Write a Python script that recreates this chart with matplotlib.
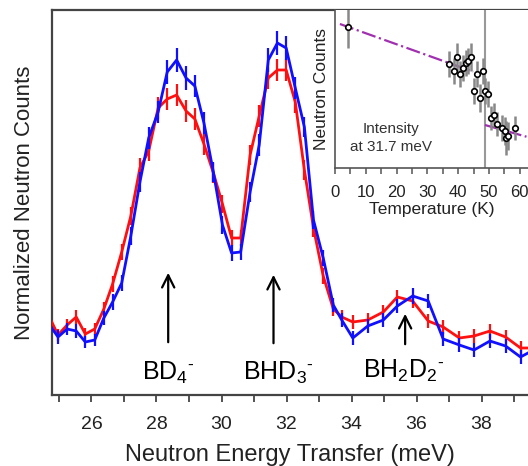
import matplotlib
matplotlib.use("Agg")
import matplotlib.pyplot as plt
from matplotlib.ticker import MultipleLocator

plt.rcParams['font.family'] = ['Liberation Sans', 'DejaVu Sans']
plt.rcParams['mathtext.fontset'] = 'custom'
plt.rcParams['mathtext.rm'] = 'Liberation Sans'
plt.rcParams['mathtext.it'] = 'Liberation Sans'

# main spectrum (energy in meV, counts in arbitrary units)
energy = [24.69, 24.97, 25.25, 25.53, 25.81, 26.10, 26.38, 26.65, 26.93, 27.21,
          27.49, 27.76, 28.05, 28.33, 28.62, 28.91, 29.18, 29.46, 29.75, 30.03,
          30.31, 30.59, 30.88, 31.16, 31.44, 31.72, 31.99, 32.27, 32.55, 32.83,
          33.13, 33.44, 33.70, 34.04, 34.50, 34.98, 35.41, 35.88, 36.36, 36.82,
          37.32, 37.77, 38.26, 38.74, 39.20, 39.66]
red_y = [316, 335, 325, 317, 334, 329, 309, 284, 252, 216,
         168, 151, 108, 99, 95, 111, 119, 144, 173, 204,
         238, 238, 155, 116, 78, 70, 70, 102, 170, 228,
         276, 309, 317, 322, 320, 312, 297, 301, 321, 327,
         338, 336, 331, 337, 348, 348]
blue_y = [324, 337, 329, 331, 342, 340, 318, 302, 283, 236,
          182, 138, 112, 72, 60, 78, 86, 123, 172, 225,
          253, 252, 192, 145, 60, 43, 48, 88, 127, 220,
          258, 305, 320, 338, 326, 320, 306, 296, 301, 339,
          345, 350, 341, 346, 357, 349]
red_counts = [395 - v for v in red_y]
blue_counts = [395 - v for v in blue_y]
red_err = [6, 6, 6, 7, 6, 6, 7, 8, 8, 9,
           10, 10, 11, 11, 11, 11, 11, 11, 10, 9,
           8, 8, 10, 11, 11, 11, 11, 11, 10, 9,
           8, 7, 7, 7, 7, 7, 7, 7, 7, 7,
           7, 7, 7, 7, 7, 7]
blue_err = [6, 7, 6, 7, 6, 6, 7, 8, 8, 9,
            10, 11, 11, 12, 12, 12, 11, 11, 10, 9,
            8, 8, 10, 11, 12, 12, 12, 11, 10, 9,
            8, 7, 7, 7, 7, 7, 7, 8, 7, 7,
            7, 7, 7, 7, 7, 7]

# inset: intensity at 31.7 meV vs temperature
temp = [4.1, 37.0, 38.6, 39.5, 40.6, 41.5, 42.4, 43.3, 44.3, 45.1, 46.0,
        47.1, 48.0, 48.8, 49.8, 50.6, 51.6, 52.5, 54.3, 55.1, 55.4, 56.3, 58.4]
temp_y = [26.7, 64, 70.7, 57.3, 74, 68, 63.3, 61, 57.3, 90.7, 74,
          97.7, 71, 90.7, 94, 118.3, 115, 124.3, 127.7, 131, 137.7, 136, 127.7]
temp_counts = [168 - v for v in temp_y]
temp_err = [21, 13, 13, 14, 13, 13, 13, 13, 14, 13, 13,
            14, 13, 13, 13, 12, 12, 12, 13, 14, 17, 14, 12]
fit1_t = [1.6, 44.9]
fit1_c = [168 - 24, 168 - 71.7]
fit2_t = [48.7, 62.2]
fit2_c = [168 - 125, 168 - 136.7]
tc = 48.7

HY = '\u2010'  # short hyphen used as the charge sign

fig = plt.figure(figsize=(5.28, 4.66), dpi=100)
ax = fig.add_axes([52 / 528, 71 / 466, 1 - 52 / 528, 385 / 466])

ax.errorbar(energy, red_counts, yerr=red_err, color='#ff1010', lw=2,
            elinewidth=1.6, capsize=0, zorder=3)
ax.errorbar(energy, blue_counts, yerr=blue_err, color='#1010ff', lw=2,
            elinewidth=1.6, capsize=0, zorder=4)

ax.set_xlim(24.785, 39.43)
ax.set_ylim(0, 385)
ax.set_yticks([])
ax.xaxis.set_major_locator(MultipleLocator(2))
ax.xaxis.set_minor_locator(MultipleLocator(1))
ax.tick_params(axis='x', which='major', length=5, width=1.3, color='#444',
               labelsize=14, labelcolor='#222', pad=10)
ax.tick_params(axis='x', which='minor', length=5, width=1.3, color='#444')
for s in ['left', 'bottom', 'top']:
    ax.spines[s].set_color('#444')
    ax.spines[s].set_linewidth(1.6)
ax.spines['right'].set_visible(False)
ax.set_xlabel('Neutron Energy Transfer (meV)', fontsize=17, color='#222', labelpad=8)
ax.set_ylabel('Normalized Neutron Counts', fontsize=16, color='#222', labelpad=12)

ax.annotate('', xy=(28.36, 125), xytext=(28.36, 50),
            arrowprops=dict(arrowstyle='->', lw=1.6, color='black', mutation_scale=22))
ax.annotate('', xy=(31.6, 123), xytext=(31.6, 49),
            arrowprops=dict(arrowstyle='->', lw=1.6, color='black', mutation_scale=22))
ax.annotate('', xy=(35.65, 84), xytext=(35.65, 48),
            arrowprops=dict(arrowstyle='->', lw=1.6, color='black', mutation_scale=22))
ax.text(28.36, 22, 'BD$_4$$^{' + HY + '}$', fontsize=18, ha='center', va='center')
ax.text(31.75, 22, 'BHD$_3$$^{' + HY + '}$', fontsize=18, ha='center', va='center')
ax.text(35.6, 24, 'BH$_2$D$_2$$^{' + HY + '}$', fontsize=18, ha='center', va='center')

# inset
ins = fig.add_axes([335 / 528, 1 - 168 / 466, 1 - 335 / 528, 158 / 466])
ins.set_facecolor('white')
ins.plot(fit1_t, fit1_c, color='#a030b0', lw=1.6, ls='-.', zorder=2)
ins.plot(fit2_t, fit2_c, color='#a030b0', lw=1.6, ls='-.', zorder=2)
ins.axvline(tc, color='#999', lw=1.5, zorder=1)
ins.errorbar(temp, temp_counts, yerr=temp_err, fmt='o', ms=4, mfc='white',
             mec='black', mew=1.2, ecolor='#888', elinewidth=1.8, capsize=0, zorder=3)
ins.set_xlim(0, 62.7)
ins.set_ylim(0, 158)
ins.set_yticks([])
ins.xaxis.set_major_locator(MultipleLocator(10))
ins.xaxis.set_minor_locator(MultipleLocator(5))
ins.tick_params(axis='x', which='both', length=4, width=1.1, color='#555',
                labelsize=12, labelcolor='#222', pad=8)
for s in ['left', 'bottom']:
    ins.spines[s].set_color('#555')
    ins.spines[s].set_linewidth(1.2)
ins.spines['right'].set_visible(False)
ins.spines['top'].set_visible(False)
ins.set_xlabel('Temperature (K)', fontsize=12.5, color='#222', labelpad=2)
ins.set_ylabel('Neutron Counts', fontsize=12.5, color='#222', labelpad=4)
ins.text(18.3, 30, 'Intensity\nat 31.7 meV', fontsize=11, color='#333',
         ha='center', va='center', linespacing=1.3)

fig.savefig('out.png', dpi=100)
